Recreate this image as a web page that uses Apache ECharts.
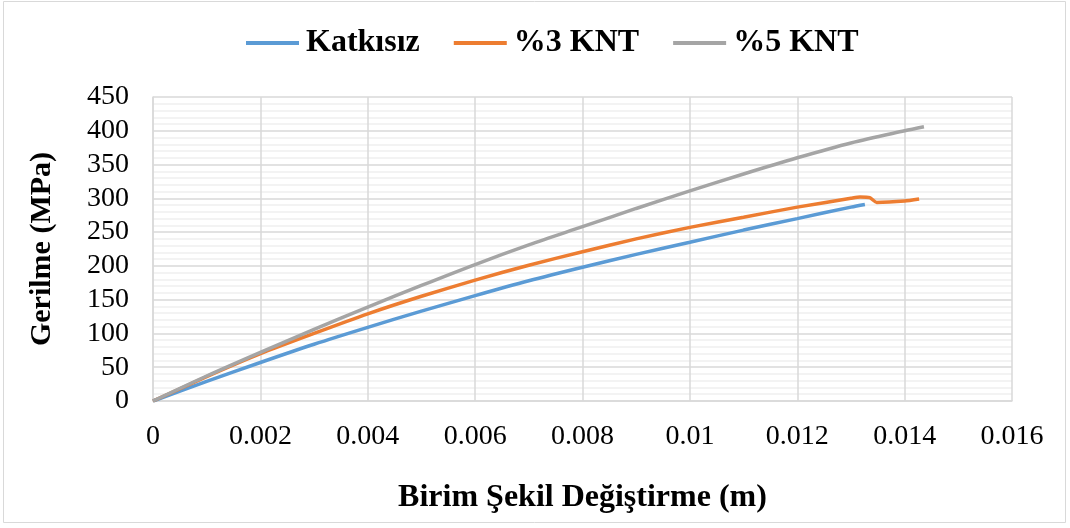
<!DOCTYPE html>
<html>
<head>
<meta charset="utf-8">
<script src="https://cdn.jsdelivr.net/npm/echarts@6/dist/echarts.min.js"></script>
<style>
  html, body { margin: 0; padding: 0; background: #ffffff; }
  #chart { width: 1070px; height: 528px; }
</style>
</head>
<body>
<div id="chart"></div>
<script>
// Stress–strain curves: strain (m) vs stress (MPa)
const seriesNames = ['Katkısız', '%3 KNT', '%5 KNT'];

const katkisizStrain = [0, 0.001, 0.002, 0.003, 0.004, 0.005, 0.006, 0.007, 0.008, 0.009, 0.010, 0.011, 0.012, 0.013, 0.01326];
const katkisizStress = [0, 29, 57, 84, 109, 133, 156, 178, 198, 217, 235, 253, 270, 287, 291];

const knt3Strain = [0, 0.001, 0.002, 0.003, 0.004, 0.005, 0.006, 0.007, 0.008, 0.009, 0.010, 0.011, 0.012, 0.013, 0.01317, 0.01335, 0.01348, 0.0140, 0.01427];
const knt3Stress = [0, 36, 70, 100, 129, 155, 179, 201, 221, 240, 257, 272, 287, 300, 302, 301, 294, 296, 299];

const knt5Strain = [0, 0.001, 0.002, 0.003, 0.004, 0.005, 0.006, 0.007, 0.008, 0.009, 0.010, 0.011, 0.012, 0.013, 0.014, 0.01436];
const knt5Stress = [0, 37, 72, 106, 139, 171, 202, 231, 258, 285, 311, 336, 360, 382, 400, 406];

const xTicks = { min: 0, max: 0.016, interval: 0.002 };
const yTicks = { min: 0, max: 450, interval: 50 };

const colors = ['#5b9bd5', '#ed7d31', '#a5a5a5'];

function pairs(xs, ys) { return xs.map((x, i) => [x, ys[i]]); }

const chart = echarts.init(document.getElementById('chart'));
const serif = "'Liberation Serif', 'Times New Roman', serif";

chart.setOption({
  animation: false,
  backgroundColor: '#ffffff',
  color: colors,
  graphic: [{
    type: 'rect',
    shape: { x: 3.5, y: 1.5, width: 1062, height: 521 },
    style: { fill: 'none', stroke: '#d9d9d9', lineWidth: 1 },
    silent: true
  }],
  legend: {
    top: 22,
    left: 241,
    itemWidth: 53,
    itemHeight: 4,
    itemGap: 34,
    icon: 'rect',
    textStyle: { fontFamily: serif, fontWeight: 'bold', fontSize: 32, color: '#000', padding: [0, 0, 0, 2] },
    data: seriesNames
  },
  grid: { left: 153, right: 58, top: 97, bottom: 127, containLabel: false },
  xAxis: {
    type: 'value',
    min: xTicks.min, max: xTicks.max, interval: xTicks.interval,
    name: 'Birim Şekil Değiştirme (m)',
    nameLocation: 'middle',
    nameGap: 81,
    nameTextStyle: { fontFamily: serif, fontWeight: 'bold', fontSize: 32, color: '#000' },
    axisLine: { show: true, lineStyle: { color: '#d9d9d9', width: 1.5 } },
    axisTick: { show: false },
    axisLabel: {
      fontFamily: serif, fontSize: 28, color: '#000', margin: 22,
      formatter: v => (v === 0 ? '0' : String(+v.toFixed(3)))
    },
    splitLine: { show: true, lineStyle: { color: '#d9d9d9', width: 1.5 } }
  },
  yAxis: {
    type: 'value',
    min: yTicks.min, max: yTicks.max, interval: yTicks.interval,
    name: 'Gerilme (MPa)',
    nameLocation: 'middle',
    nameGap: 96,
    nameTextStyle: { fontFamily: serif, fontWeight: 'bold', fontSize: 30, color: '#000' },
    axisLine: { show: true, lineStyle: { color: '#d9d9d9', width: 1.5 } },
    axisTick: { show: false },
    axisLabel: { fontFamily: serif, fontSize: 28, color: '#000', margin: 24 },
    splitLine: { show: true, lineStyle: { color: '#d9d9d9', width: 1.5 } },
    minorTick: { show: false, splitNumber: 5 },
    minorSplitLine: { show: true, lineStyle: { color: '#efefef', width: 1.5 } }
  },
  series: [
    { name: seriesNames[0], type: 'line', data: pairs(katkisizStrain, katkisizStress), smooth: 0.3, showSymbol: false, lineStyle: { width: 3.5 } },
    { name: seriesNames[1], type: 'line', data: pairs(knt3Strain, knt3Stress), smooth: 0.2, showSymbol: false, lineStyle: { width: 3.5 } },
    { name: seriesNames[2], type: 'line', data: pairs(knt5Strain, knt5Stress), smooth: 0.3, showSymbol: false, lineStyle: { width: 3.5 } }
  ]
});
</script>
</body>
</html>
